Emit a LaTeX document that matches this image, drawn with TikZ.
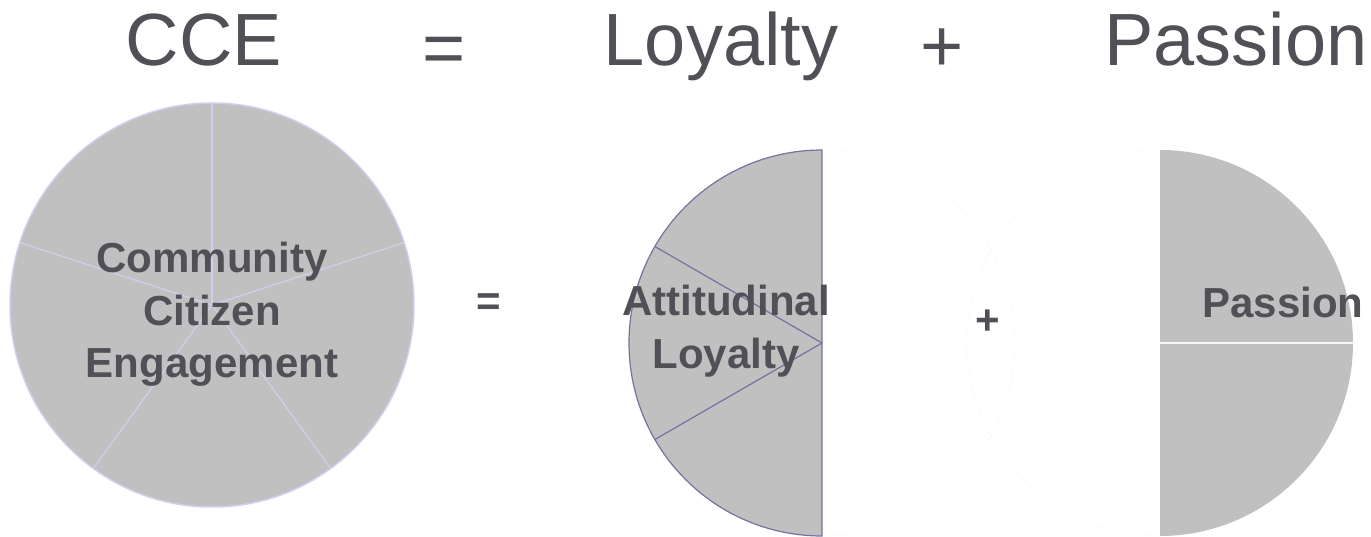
\documentclass[tikz,border=0pt]{standalone}
\usepackage{fontspec}
\setmainfont{Liberation Sans}
\usepackage{tikz}

\definecolor{txtgray}{RGB}{80,81,86}
\definecolor{piegray}{RGB}{192,192,192}
\definecolor{spokeblue}{RGB}{208,208,238}
\definecolor{rimblue}{RGB}{115,115,160}
\definecolor{ghost}{RGB}{247,247,247}

\begin{document}
\begin{tikzpicture}[x=1pt, y=1pt,
    title/.style={font=\fontsize{74}{80}\selectfont, text=txtgray, anchor=base, inner sep=0pt},
    piece/.style={font=\fontsize{42}{52.5}\selectfont\bfseries, text=txtgray, align=center, inner sep=0pt}]
  \useasboundingbox (0,0) rectangle (1371,536);
  \coordinate (cce) at (212,231);
  \coordinate (loy) at (822,193);
  \coordinate (pas) at (1160,193);

  % the whole
  \fill[piegray] (cce) circle (202);
  \foreach \a in {90,18,-54,-126,162}
    \draw[spokeblue, line width=1.2] (cce) -- ++(\a:202);
  \draw[spokeblue, line width=1.5] (cce) circle (202);

  % the missing halves, barely there
  \draw[ghost] (loy) ++(0,193) arc (90:-90:193);
  \draw[ghost] (loy) -- ++(30:193) (loy) -- ++(-30:193);
  \draw[ghost] (pas) ++(0,193) arc (90:270:193);

  % loyalty
  \filldraw[fill=piegray, draw=rimblue, line width=1.2] (loy) ++(0,193) arc (90:270:193) -- cycle;
  \draw[rimblue, line width=1.2] (loy) -- ++(150:193) (loy) -- ++(210:193);

  % passion
  \fill[piegray] (pas) ++(0,193) arc (90:-90:193) -- cycle;
  \draw[white!85!piegray, line width=1.5] (pas) -- ++(193,0);

  % heading
  \node[title] (t-cce) at (204,470) {CCE};
  \node[title] (t-eq) at (444,462) {=};
  \node[title] (t-loy) at (721,470) {Loyalty};
  \node[title] (t-plus) at (942,464) {+};
  \node[title] (t-pas) at (1236,470) {Passion};

  % labels
  \node[piece] (l-cce) at (212,221.5) {Community\\Citizen\\Engagement};
  \node[piece, anchor=base] (l-eq) at (489,220) {=};
  \node[piece] (l-loy) at (726,205) {Attitudinal\\Loyalty};
  \node[piece, anchor=base] (l-plus) at (988,201) {+};
  \node[piece, anchor=base] (l-pas) at (1283,218) {Passion};
\end{tikzpicture}
\end{document}
